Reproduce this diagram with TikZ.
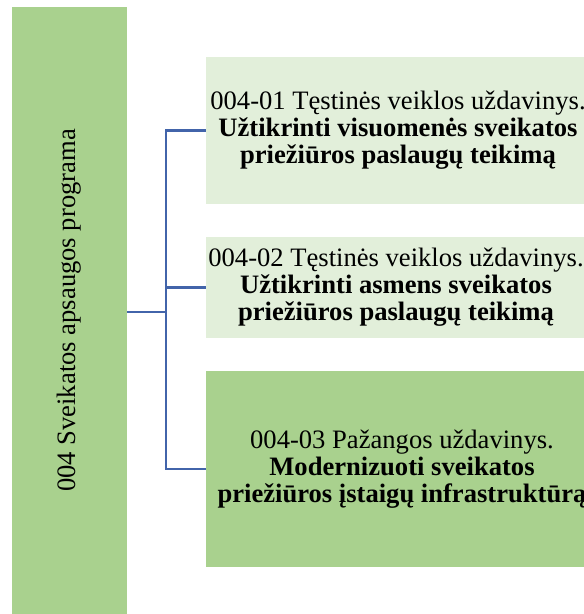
\documentclass[tikz,border=0pt]{standalone}
\usepackage{fontspec}
\setmainfont{Liberation Serif}
\definecolor{gdark}{HTML}{A9D18E}
\definecolor{glight}{HTML}{E2EFDA}
\definecolor{lblue}{HTML}{4264AA}
\begin{document}
\begin{tikzpicture}[x=1pt,y=-1pt,
  txt/.style={font=\fontsize{26.6}{27}\selectfont, text=black, inner sep=0pt},
  taskbox/.style={txt, align=center},
  conn/.style={draw=lblue, line width=2.4pt}]
\clip (0,0) rectangle (584,614);
\node[txt, fill=gdark, rotate=90, minimum width=607pt, minimum height=115pt] (prog) at (69.5,310.5) {004 Sveikatos apsaugos programa};
\node[taskbox, fill=glight, minimum width=384pt, minimum height=147pt] (b1) at (398,130.5) {004-01 Tęstinės veiklos uždavinys.\\ \textbf{Užtikrinti visuomenės sveikatos}\\ \textbf{priežiūros paslaugų teikimą}};
\node[taskbox, fill=glight, minimum width=380pt, minimum height=101pt] (b2) at (396,287.5) {004-02 Tęstinės veiklos uždavinys.\\ \textbf{Užtikrinti asmens sveikatos}\\ \textbf{priežiūros paslaugų teikimą}};
\node[taskbox, fill=gdark, minimum width=392pt, minimum height=196pt] (b3) at (402,469) {004-03 Pažangos uždavinys.\\ \textbf{Modernizuoti sveikatos}\\ \textbf{priežiūros įstaigų infrastruktūrą}};
\coordinate (jn) at (166,312);
\draw[conn] (prog.south |- jn) -- (jn);
\draw[conn] (b1.west) -| (jn);
\draw[conn] (b3.west) -| (jn);
\draw[conn] (b2.west) -- (b2.west -| jn);
\end{tikzpicture}
\end{document}
